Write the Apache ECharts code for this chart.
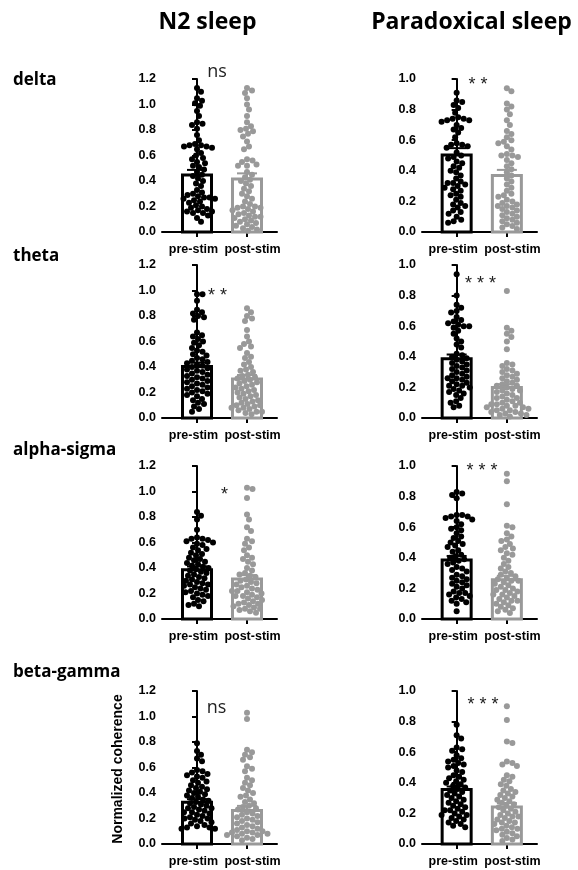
<!DOCTYPE html>
<html>
<head>
<meta charset="utf-8">
<script src="https://cdn.jsdelivr.net/npm/echarts@6/dist/echarts.min.js"></script>
<style>
  html, body { margin: 0; padding: 0; background: #fff; }
  #chart { width: 578px; height: 870px; }
</style>
</head>
<body>
<div id="chart"></div>
<script>
document.addEventListener('DOMContentLoaded', function() {

/* TEXTOS */
var columnTitles = ['N2 sleep', 'Paradoxical sleep'];
var rowNames = ['delta', 'theta', 'alpha-sigma', 'beta-gamma'];
var categories = ['pre-stim', 'post-stim'];
var sigMarks = ['ns', '* *', '* *', '* * *', '*', '* * *', 'ns', '* * *'];
var yName = 'Normalized coherence';

/* ESCALAS (N2 hasta 1.2, paradoxical hasta 1.0) */
var yMax = [1.2, 1.0, 1.2, 1.0, 1.2, 1.0, 1.2, 1.0];

/* MEDIAS Y SEM DE LAS BARRAS */
var meanPre  = [0.447, 0.504, 0.404, 0.387, 0.386, 0.386, 0.328, 0.356];
var semPre   = [0.040, 0.044, 0.031, 0.028, 0.026, 0.026, 0.024, 0.020];
var meanPost = [0.415, 0.369, 0.306, 0.199, 0.313, 0.256, 0.263, 0.242];
var semPost  = [0.045, 0.037, 0.031, 0.022, 0.031, 0.026, 0.036, 0.026];

/* PUNTOS INDIVIDUALES */
var n2DeltaPre = [1.13,1.10,1.05,1.03,1.01,0.99,0.95,0.91,0.86,0.85,0.84,0.81,0.76,0.72,0.69,0.68,0.68,0.67,0.67,0.66,0.65,0.62,0.60,0.58,0.57,0.55,0.54,0.52,0.51,0.49,0.47,0.45,0.44,0.42,0.40,0.38,0.36,0.33,0.31,0.30,0.29,0.28,0.27,0.27,0.26,0.26,0.25,0.24,0.23,0.21,0.20,0.19,0.18,0.17,0.16,0.16,0.15,0.15,0.13,0.11,0.08];
var n2DeltaPost = [1.13,1.11,1.09,1.05,1.00,0.96,0.91,0.86,0.83,0.81,0.80,0.79,0.77,0.75,0.71,0.67,0.65,0.57,0.56,0.55,0.53,0.52,0.52,0.47,0.45,0.43,0.41,0.40,0.38,0.36,0.34,0.32,0.30,0.28,0.26,0.24,0.22,0.20,0.20,0.19,0.19,0.18,0.17,0.16,0.15,0.14,0.13,0.12,0.11,0.10,0.09,0.08,0.07,0.06,0.05,0.04,0.03,0.02,0.01,0.12];
var psDeltaPre = [0.91,0.86,0.85,0.83,0.81,0.78,0.75,0.74,0.74,0.73,0.73,0.72,0.70,0.68,0.67,0.65,0.62,0.58,0.57,0.57,0.56,0.55,0.52,0.50,0.49,0.48,0.46,0.45,0.43,0.42,0.40,0.39,0.37,0.35,0.33,0.32,0.32,0.31,0.30,0.29,0.28,0.27,0.25,0.24,0.23,0.21,0.19,0.18,0.17,0.16,0.14,0.13,0.12,0.10,0.08,0.07,0.06];
var psDeltaPost = [0.94,0.92,0.84,0.82,0.80,0.77,0.73,0.70,0.66,0.64,0.62,0.60,0.59,0.58,0.56,0.54,0.51,0.50,0.50,0.49,0.47,0.45,0.43,0.41,0.39,0.37,0.35,0.33,0.31,0.29,0.27,0.25,0.24,0.23,0.21,0.20,0.19,0.18,0.17,0.17,0.16,0.15,0.14,0.13,0.12,0.11,0.10,0.09,0.08,0.07,0.06,0.05,0.04,0.03,0.02];
var n2ThetaPre = [0.97,0.97,0.92,0.85,0.83,0.82,0.80,0.79,0.77,0.67,0.65,0.64,0.62,0.60,0.59,0.57,0.55,0.53,0.52,0.50,0.49,0.47,0.46,0.45,0.44,0.43,0.42,0.41,0.40,0.39,0.38,0.37,0.36,0.35,0.34,0.33,0.32,0.31,0.30,0.29,0.28,0.27,0.26,0.25,0.24,0.23,0.22,0.21,0.20,0.19,0.18,0.17,0.15,0.14,0.12,0.11,0.09,0.07,0.05];
var n2ThetaPost = [0.86,0.83,0.80,0.78,0.76,0.69,0.64,0.60,0.58,0.56,0.55,0.51,0.48,0.47,0.44,0.42,0.40,0.38,0.37,0.36,0.34,0.33,0.32,0.31,0.30,0.29,0.28,0.27,0.26,0.25,0.24,0.23,0.22,0.21,0.20,0.19,0.18,0.17,0.16,0.15,0.14,0.13,0.12,0.11,0.10,0.09,0.08,0.07,0.06,0.05,0.05,0.04,0.03,0.08,0.10];
var psThetaPre = [0.94,0.80,0.74,0.72,0.70,0.69,0.66,0.64,0.63,0.62,0.61,0.60,0.60,0.59,0.57,0.55,0.52,0.50,0.48,0.46,0.42,0.41,0.40,0.39,0.38,0.37,0.36,0.35,0.34,0.33,0.32,0.31,0.30,0.29,0.28,0.27,0.26,0.26,0.25,0.24,0.23,0.22,0.21,0.21,0.20,0.19,0.18,0.17,0.16,0.15,0.13,0.11,0.10,0.08,0.07];
var psThetaPost = [0.83,0.59,0.57,0.55,0.53,0.50,0.45,0.36,0.35,0.34,0.32,0.31,0.30,0.29,0.28,0.27,0.26,0.25,0.24,0.23,0.22,0.21,0.21,0.20,0.19,0.18,0.18,0.17,0.16,0.15,0.14,0.13,0.13,0.12,0.11,0.10,0.10,0.09,0.09,0.08,0.08,0.07,0.07,0.06,0.06,0.05,0.05,0.04,0.04,0.03,0.03,0.02,0.02,0.01];
var n2AlphaPre = [0.84,0.81,0.78,0.70,0.64,0.63,0.63,0.62,0.61,0.60,0.59,0.58,0.56,0.55,0.54,0.52,0.51,0.50,0.48,0.47,0.46,0.45,0.44,0.43,0.42,0.41,0.40,0.39,0.38,0.37,0.36,0.35,0.34,0.33,0.32,0.31,0.30,0.29,0.28,0.27,0.27,0.26,0.25,0.24,0.23,0.22,0.21,0.20,0.19,0.18,0.17,0.15,0.14,0.12,0.11,0.10];
var n2AlphaPost = [1.03,1.02,0.95,0.82,0.78,0.72,0.69,0.63,0.61,0.59,0.56,0.54,0.50,0.48,0.47,0.45,0.43,0.40,0.38,0.36,0.35,0.34,0.33,0.31,0.30,0.29,0.28,0.27,0.26,0.25,0.24,0.23,0.22,0.21,0.20,0.19,0.18,0.17,0.16,0.15,0.14,0.13,0.12,0.11,0.10,0.09,0.08,0.08,0.07,0.06,0.05,0.12,0.18,0.22];
var psAlphaPre = [0.83,0.82,0.81,0.79,0.68,0.68,0.67,0.67,0.66,0.65,0.64,0.62,0.60,0.59,0.58,0.56,0.54,0.53,0.51,0.50,0.49,0.48,0.47,0.45,0.44,0.42,0.41,0.40,0.39,0.38,0.37,0.36,0.34,0.33,0.32,0.31,0.29,0.28,0.27,0.26,0.25,0.24,0.23,0.22,0.21,0.20,0.18,0.17,0.17,0.16,0.15,0.14,0.13,0.12,0.11,0.10,0.05];
var psAlphaPost = [0.95,0.90,0.75,0.61,0.60,0.56,0.54,0.52,0.51,0.49,0.47,0.46,0.45,0.43,0.42,0.40,0.38,0.36,0.34,0.33,0.31,0.30,0.29,0.28,0.27,0.26,0.25,0.24,0.23,0.22,0.21,0.20,0.19,0.18,0.17,0.16,0.15,0.14,0.13,0.12,0.11,0.10,0.09,0.08,0.07,0.06,0.05,0.04,0.12,0.16,0.19,0.25];
var n2BetaPre = [0.79,0.73,0.70,0.67,0.65,0.58,0.57,0.56,0.55,0.54,0.53,0.52,0.50,0.49,0.48,0.46,0.45,0.44,0.43,0.42,0.41,0.40,0.39,0.38,0.37,0.36,0.35,0.34,0.33,0.32,0.31,0.30,0.29,0.28,0.28,0.27,0.26,0.25,0.25,0.24,0.23,0.22,0.21,0.20,0.20,0.19,0.18,0.17,0.16,0.15,0.14,0.13,0.13,0.12,0.12];
var n2BetaPost = [1.03,0.98,0.74,0.72,0.70,0.68,0.66,0.61,0.59,0.57,0.52,0.50,0.48,0.46,0.44,0.42,0.40,0.38,0.37,0.35,0.33,0.32,0.30,0.29,0.28,0.27,0.25,0.24,0.23,0.22,0.21,0.20,0.19,0.18,0.17,0.16,0.15,0.14,0.13,0.12,0.11,0.10,0.10,0.09,0.09,0.08,0.08,0.07,0.07,0.06,0.05,0.04,0.03];
var psBetaPre = [0.78,0.71,0.69,0.63,0.62,0.61,0.58,0.56,0.55,0.54,0.53,0.52,0.51,0.50,0.48,0.47,0.45,0.44,0.43,0.42,0.41,0.40,0.39,0.38,0.37,0.36,0.35,0.34,0.33,0.32,0.31,0.30,0.29,0.28,0.27,0.26,0.25,0.24,0.23,0.22,0.22,0.21,0.20,0.19,0.19,0.18,0.17,0.16,0.15,0.14,0.13,0.12,0.11];
var psBetaPost = [0.90,0.81,0.67,0.66,0.54,0.53,0.52,0.51,0.45,0.44,0.42,0.41,0.39,0.38,0.36,0.35,0.34,0.33,0.32,0.31,0.30,0.29,0.28,0.27,0.26,0.25,0.24,0.23,0.22,0.21,0.20,0.19,0.18,0.17,0.16,0.15,0.14,0.13,0.12,0.11,0.10,0.09,0.08,0.07,0.06,0.05,0.04,0.03,0.02,0.10,0.14,0.18];

var prePoints  = [n2DeltaPre, psDeltaPre, n2ThetaPre, psThetaPre, n2AlphaPre, psAlphaPre, n2BetaPre, psBetaPre];
var postPoints = [n2DeltaPost, psDeltaPost, n2ThetaPost, psThetaPost, n2AlphaPost, psAlphaPost, n2BetaPost, psBetaPost];

/* LAYOUT */
var rowTops = [79, 265, 466, 691];
var colLefts = [162, 422];
var colMin = [-0.7, -0.69];
var gridW = 115, gridH = 153;
var pxPerCat = 50;
var sigPos = [[217, 72], [478, 85], [217.5, 296], [480.5, 284], [224.5, 495], [482, 471], [216.5, 708], [483, 705]];
var rowLabelY = [80, 256, 450, 672];
var titleX = [207.5, 471.5];

var BLACK = '#000000';
var GRAY = '#999999';

/* BEESWARM: desplaza cada punto horizontalmente para que no se solapen */
function swarm(values, catIndex, pxY) {
	var order = values.map(function(v, i) { return i; }).sort(function(a, b) { return values[b] - values[a]; });
	var placed = [];
	var out = [];
	var D = 5.4;
	order.forEach(function(i) {
		var y = values[i] * pxY;
		var off = 0;
		for (var k = 0; k < 200; k++) {
			var cand = (k % 2 ? 1 : -1) * Math.ceil(k / 2) * 0.5;
			var ok = true;
			for (var j = 0; j < placed.length; j++) {
				var dx = cand - placed[j][0], dy = y - placed[j][1];
				if (dx * dx + dy * dy < D * D) { ok = false; break; }
			}
			if (ok) { off = cand; break; }
		}
		placed.push([off, y]);
		out.push([catIndex + off / pxPerCat, values[i]]);
	});
	return out;
}

function barItem(params, api) {
	var x = api.value(0), m = api.value(1);
	var base = api.coord([x, 0]);
	var top = api.coord([x, m]);
	var color = x === 0 ? BLACK : GRAY;
	return {
		type: 'rect',
		shape: { x: top[0] - 14.5, y: top[1], width: 29, height: base[1] - top[1] },
		style: { fill: '#fff', stroke: color, lineWidth: 3 }
	};
}

function errItem(params, api) {
	var x = api.value(0), m = api.value(1), s = api.value(2);
	var top = api.coord([x, m]);
	var hi = api.coord([x, m + s]);
	var color = x === 0 ? BLACK : GRAY;
	return {
		type: 'group',
		children: [
			{ type: 'line', shape: { x1: top[0], y1: top[1], x2: hi[0], y2: hi[1] }, style: { stroke: color, lineWidth: 2 } },
			{ type: 'line', shape: { x1: hi[0] - 10, y1: hi[1], x2: hi[0] + 10, y2: hi[1] }, style: { stroke: color, lineWidth: 2 } }
		]
	};
}

var grids = [], xAxes = [], yAxes = [], series = [], graphics = [];

for (var p = 0; p < 8; p++) {
	var row = Math.floor(p / 2), col = p % 2;
	grids.push({ left: colLefts[col], top: rowTops[row], width: gridW, height: gridH });
	xAxes.push({
		gridIndex: p, type: 'value', min: colMin[col], max: 1.6,
		splitLine: { show: false },
		axisLine: { show: true, onZero: false, lineStyle: { color: '#000', width: 2 } },
		axisTick: { show: true, customValues: [0, 1], length: 5, lineStyle: { color: '#000', width: 2 } },
		axisLabel: {
			customValues: [0, 1], margin: 11,
			formatter: function(v) { return v === 0 ? '{a|' + categories[0] + '}' : '{b|' + categories[1] + '}'; },
			rich: {
				a: { fontFamily: 'Liberation Sans', fontWeight: 'bold', fontSize: 12.5, color: '#000', padding: [0, 7, 0, 0] },
				b: { fontFamily: 'Liberation Sans', fontWeight: 'bold', fontSize: 12.5, color: '#000', padding: [0, 0, 0, 11] }
			}
		}
	});
	yAxes.push({
		gridIndex: p, type: 'value', min: 0, max: yMax[p], interval: 0.2,
		splitLine: { show: false },
		axisLine: { show: true, lineStyle: { color: '#000', width: 2 } },
		axisTick: { show: true, length: 5, lineStyle: { color: '#000', width: 2 } },
		axisLabel: {
			margin: 6, color: '#000', fontFamily: 'Liberation Sans', fontWeight: 'bold', fontSize: 12.5,
			formatter: function(v) { return v.toFixed(1); }
		}
	});

	var pxY = gridH / yMax[p];
	series.push({
		type: 'custom', xAxisIndex: p, yAxisIndex: p, z: 1, silent: true,
		renderItem: barItem,
		data: [[0, meanPre[p]], [1, meanPost[p]]]
	});
	series.push({
		type: 'scatter', xAxisIndex: p, yAxisIndex: p, z: 2, silent: true,
		symbolSize: 6, itemStyle: { color: BLACK, opacity: 1 },
		data: swarm(prePoints[p], 0, pxY)
	});
	series.push({
		type: 'scatter', xAxisIndex: p, yAxisIndex: p, z: 2, silent: true,
		symbolSize: 6, itemStyle: { color: GRAY, opacity: 1 },
		data: swarm(postPoints[p], 1, pxY)
	});
	series.push({
		type: 'custom', xAxisIndex: p, yAxisIndex: p, z: 3, silent: true,
		renderItem: errItem,
		data: [[0, meanPre[p], semPre[p]], [1, meanPost[p], semPost[p]]]
	});

	var isNs = sigMarks[p] === 'ns';
	graphics.push({
		type: 'text', x: sigPos[p][0], y: sigPos[p][1],
		style: {
			text: sigMarks[p], align: 'center', verticalAlign: 'middle',
			fill: '#222',
			fontFamily: isNs ? 'Open Sans' : 'Liberation Sans',
			fontSize: 18
		}
	});
}

columnTitles.forEach(function(t, i) {
	graphics.push({
		type: 'text', x: titleX[i], y: 22,
		style: { text: t, align: 'center', verticalAlign: 'middle', fill: '#000', fontFamily: 'Open Sans', fontWeight: 'bold', fontSize: 23 }
	});
});

rowNames.forEach(function(t, i) {
	graphics.push({
		type: 'text', x: 13, y: rowLabelY[i],
		style: { text: t, align: 'left', verticalAlign: 'middle', fill: '#000', fontFamily: 'Open Sans', fontWeight: 'bold', fontSize: 17 }
	});
});

graphics.push({
	type: 'text', x: 118.5, y: 769, rotation: Math.PI / 2,
	style: { text: yName, align: 'center', verticalAlign: 'middle', fill: '#000', fontFamily: 'Liberation Sans', fontWeight: 'bold', fontSize: 14 }
});

var myChart = echarts.init(document.getElementById('chart'), null, { renderer: 'canvas' });
myChart.setOption({
	animation: false,
	backgroundColor: '#fff',
	grid: grids,
	xAxis: xAxes,
	yAxis: yAxes,
	series: series,
	graphic: graphics
});

});
</script>
</body>
</html>
